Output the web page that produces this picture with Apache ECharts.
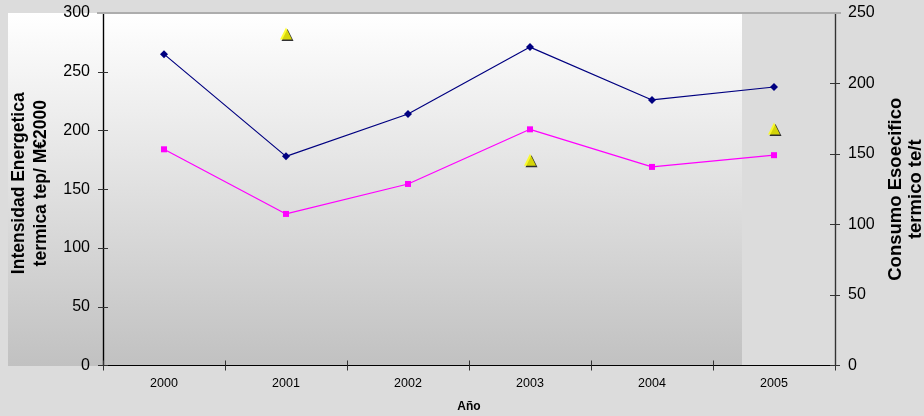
<!DOCTYPE html>
<html>
<head>
<meta charset="utf-8">
<script src="https://cdn.jsdelivr.net/npm/echarts@6/dist/echarts.min.js"></script>
<style>
  html, body { margin: 0; padding: 0; background: #dcdcdc; }
  #chart { width: 924px; height: 416px; }
</style>
</head>
<body>
<div id="chart"></div>
<script>
// Años y series
const years = ['2000', '2001', '2002', '2003', '2004', '2005'];
const intensidadA = [265, 178, 214, 271, 226, 237];   // azul, eje izquierdo
const intensidadB = [184, 129, 154.5, 201, 169, 179]; // magenta, eje izquierdo
const consumoEsp = ['-', 235.5, '-', 146, '-', 168];  // triángulos, eje derecho

const leftTicks = { min: 0, max: 300, interval: 50 };
const rightTicks = { min: 0, max: 250, interval: 50 };

const chart = echarts.init(document.getElementById('chart'), null, { renderer: 'canvas' });

const font = '"Liberation Sans", Arial, sans-serif';
const GRID = { left: 103, right: 89, top: 13, bottom: 50.5, containLabel: false, outerBoundsMode: 'none' };

function yAx(pos, ticks, inside, extra) {
  return Object.assign({
    type: 'value',
    position: pos,
    min: ticks.min, max: ticks.max, interval: ticks.interval,
    axisLine: { show: true, onZero: false, lineStyle: { color: pos === 'left' ? '#000' : '#333', width: 1.2 } },
    axisTick: { show: true, inside: inside, length: 5, lineStyle: { color: '#333' } },
    axisLabel: { show: !inside, margin: 13, color: '#000', fontSize: 16, fontFamily: font },
    splitLine: { show: false }
  }, extra || {});
}

const option = {
  backgroundColor: '#dcdcdc',
  animation: false,
  grid: GRID,
  graphic: [{
    type: 'rect',
    z: -10,
    shape: { x: 8, y: 13, width: 734, height: 353 },
    style: {
      fill: new echarts.graphic.LinearGradient(0, 0, 0, 1, [
        { offset: 0, color: '#ffffff' },
        { offset: 1, color: '#c1c1c1' }
      ])
    }
  }, {
    // borde superior gris del área de trazado
    type: 'line',
    z: 5,
    shape: { x1: 97, y1: 13, x2: 841, y2: 13 },
    style: { stroke: '#adadad', lineWidth: 2 }
  }],
  xAxis: [
    {
      type: 'category', data: years, position: 'bottom', boundaryGap: true,
      axisLine: { lineStyle: { color: '#000', width: 1.2 } },
      axisTick: { show: true, length: 5, lineStyle: { color: '#333' } },
      axisLabel: { margin: 12, color: '#000', fontSize: 12.5, fontFamily: font },
      name: 'Año', nameLocation: 'middle', nameGap: 35,
      nameTextStyle: { color: '#000', fontSize: 12, fontWeight: 'bold', fontFamily: font }
    },
    {
      type: 'category', data: years, position: 'bottom', boundaryGap: true,
      axisLine: { show: false },
      axisTick: { show: true, inside: true, length: 5, lineStyle: { color: '#333' } },
      axisLabel: { show: false }
    }
  ],
  yAxis: [
    yAx('left', leftTicks, false, {
      name: 'Intensidad Energetica\ntermica tep/ M€2000',
      nameLocation: 'middle', nameGap: 47, nameRotate: 90,
      nameTextStyle: { color: '#000', fontSize: 17.5, fontWeight: 'bold', fontFamily: font, lineHeight: 22, padding: [0, 0, 0, 12] }
    }),
    yAx('right', rightTicks, false, {
      name: 'Consumo Esoecifico\ntermico te/t',
      nameLocation: 'middle', nameGap: 48, nameRotate: 90,
      nameTextStyle: { color: '#000', fontSize: 18.5, fontWeight: 'bold', fontFamily: font, lineHeight: 20 }
    }),
    yAx('left', leftTicks, true),
    yAx('right', rightTicks, true)
  ],
  series: [
    {
      type: 'line', xAxisIndex: 0, yAxisIndex: 0, data: intensidadA,
      symbol: 'diamond', symbolSize: 8,
      lineStyle: { color: '#000080', width: 1.2 },
      itemStyle: { color: '#000080' }
    },
    {
      type: 'line', xAxisIndex: 0, yAxisIndex: 0, data: intensidadB,
      symbol: 'rect', symbolSize: 6,
      lineStyle: { color: '#ff00ff', width: 1.2 },
      itemStyle: { color: '#ff00ff' }
    },
    {
      type: 'scatter', xAxisIndex: 0, yAxisIndex: 1, data: consumoEsp,
      symbol: 'triangle', symbolSize: [12, 12],
      itemStyle: { color: '#ffff00', shadowColor: '#000', shadowBlur: 0, shadowOffsetX: 1.5, shadowOffsetY: 1.5 }
    }
  ]
};

chart.setOption(option);
</script>
</body>
</html>
